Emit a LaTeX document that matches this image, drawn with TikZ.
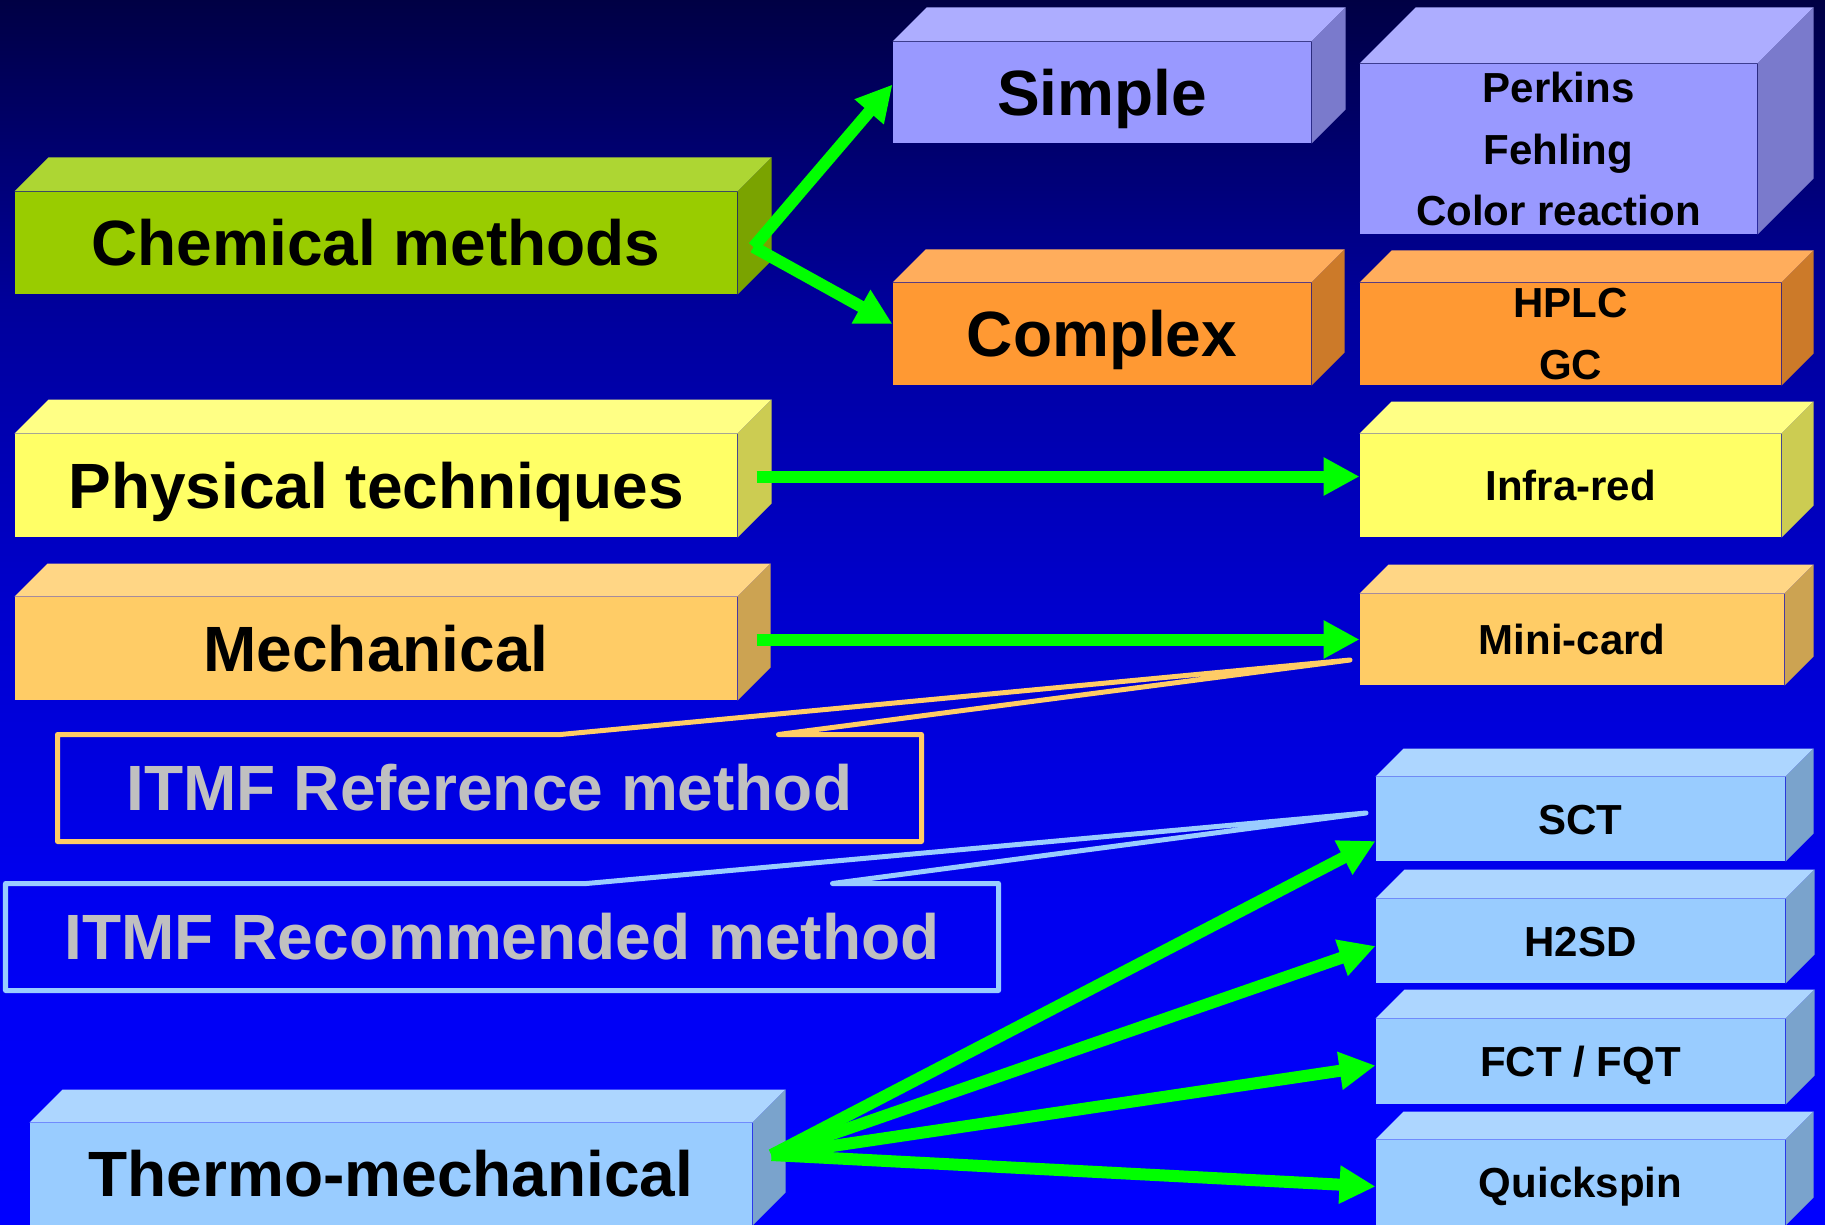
\documentclass[tikz,border=0pt]{standalone}
\usepackage{fontspec}
\setmainfont{Liberation Sans}
\usetikzlibrary{arrows.meta,calc}

\definecolor{chemgreen}{HTML}{99CC00}
\definecolor{lilac}{HTML}{9999FF}
\definecolor{tangerine}{HTML}{FF9933}
\definecolor{lemon}{HTML}{FFFF66}
\definecolor{peach}{HTML}{FFCC66}
\definecolor{sky}{HTML}{99CCFF}
\definecolor{arrowgreen}{HTML}{00FF00}
\definecolor{itmfgray}{HTML}{C0C0C0}
\definecolor{bgtop}{HTML}{000044}
\definecolor{bgone}{HTML}{00009A}
\definecolor{bgtwo}{HTML}{0000CC}
\definecolor{bgthree}{HTML}{0000F0}
\definecolor{bgbottom}{HTML}{0000FF}

% 3D slab: name, x, y, width, height, depth, colour, style, text
\newcommand{\slab}[9]{%
  \node[front, fill=#7, minimum width=#4*0.4pt, minimum height=#5*0.4pt, #8] (#1) at (#2,#3) {#9};
  \fill[#7!80!white] (#1.north west) -- ++(#6,-#6) -- ($(#1.north east)+(#6,-#6)$) -- (#1.north east) -- cycle;
  \fill[#7!80!black] (#1.north east) -- ++(#6,-#6) -- ($(#1.south east)+(#6,-#6)$) -- (#1.south east) -- cycle;
}

\begin{document}
\begin{tikzpicture}[
    x=0.4pt, y=-0.4pt,
    front/.style={rectangle, inner sep=0pt, align=center},
    bigtext/.style={font=\fontsize{25.6}{30}\selectfont\bfseries, text height=18.3pt, text depth=0pt},
    smalltext/.style={font=\fontsize{16.8}{24.6}\selectfont\bfseries, text height=12pt, text depth=0pt},
    listtext/.style={font=\fontsize{16.8}{24.6}\selectfont\bfseries},
    itmf/.style={rectangle, inner sep=0pt, text=itmfgray, font=\fontsize{25.6}{30}\selectfont\bfseries,
                 text height=18.3pt, text depth=0pt},
    go/.style={arrowgreen, line width=4.8pt, -{Triangle[length=14.4pt,width=14.4pt]}},
    refline/.style={peach, line width=2pt, line join=round},
    recline/.style={sky, line width=2pt, line join=round}
]

\useasboundingbox (0,0) rectangle (1825,1225);

% --- Background ---
\begin{scope}[y=0.4pt]
    \shade[top color=bgtop, bottom color=bgone] (0,0) rectangle (1825,-300.5);
    \shade[top color=bgone, bottom color=bgtwo] (0,-300) rectangle (1825,-600.5);
    \shade[top color=bgtwo, bottom color=bgthree] (0,-600) rectangle (1825,-900.5);
    \shade[top color=bgthree, bottom color=bgbottom] (0,-900) rectangle (1825,-1225);
\end{scope}

% --- Methods (left) ---
\slab{chem}{376}{243}{722}{102}{34}{chemgreen}{bigtext}{Chemical methods}
\slab{phys}{376}{485.5}{722}{103}{34}{lemon}{bigtext}{Physical techniques}
\slab{mech}{376}{648.5}{722}{103}{33}{peach}{bigtext}{Mechanical}
\slab{thermo}{391}{1174}{722}{102}{33}{sky}{bigtext}{Thermo-mechanical}

% --- Chemical split ---
\slab{simple}{1102}{92.5}{418}{101}{34}{lilac}{bigtext}{Simple}
\slab{complex}{1102}{334}{418}{102}{33}{tangerine}{bigtext}{Complex}

% --- Instruments (right) ---
\slab{perkins}{1558.5}{149}{397}{170}{56}{lilac}{listtext}{Perkins\\Fehling\\Color reaction}
\slab{hplc}{1570.5}{334}{421}{102}{32}{tangerine}{listtext}{HPLC\\GC}
\slab{infrared}{1570.5}{485.5}{421}{103}{32}{lemon}{smalltext}{Infra-red}
\slab{minicard}{1572}{639.5}{424}{91}{29}{peach}{smalltext}{Mini-card}
\slab{sct}{1580.5}{819}{409}{84}{28}{sky}{smalltext}{SCT}
\slab{h2sd}{1580.5}{941}{409}{84}{29}{sky}{smalltext}{H2SD}
\slab{fct}{1580.5}{1061.5}{409}{85}{29}{sky}{smalltext}{FCT / FQT}
\slab{quick}{1580.5}{1182.5}{409}{85}{28}{sky}{smalltext}{Quickspin}

% --- Callouts ---
\coordinate (reftip) at (1350,660);
\node[itmf, minimum width=863*0.4pt, minimum height=106*0.4pt] (itmfref) at (489.5,788) {ITMF Reference method};
\draw[refline] ($(itmfref.north west)+(503,0)$) -- (reftip) -- ($(itmfref.north west)+(721,0)$)
    -- (itmfref.north east) -- (itmfref.south east) -- (itmfref.south west) -- (itmfref.north west) -- cycle;

\coordinate (rectip) at (1366,813);
\node[itmf, minimum width=992*0.4pt, minimum height=106*0.4pt] (itmfrec) at (502,937) {ITMF Recommended method};
\draw[recline] ($(itmfrec.north west)+(581,0)$) -- (rectip) -- ($(itmfrec.north west)+(827,0)$)
    -- (itmfrec.north east) -- (itmfrec.south east) -- (itmfrec.south west) -- (itmfrec.north west) -- cycle;

% --- Arrows ---
\coordinate (chemstart) at ($(chem.east)+(16,4)$);
\draw[go] (chemstart) -- ($(simple.west)+(0,-8)$);
\draw[go] (chemstart) -- ($(complex.west)+(0,-10)$);

\draw[go] ($(phys.east)+(19,-9)$) -- ($(infrared.west)+(0,-9)$);
\draw[go] ($(mech.east)+(19,-9)$) -- (minicard.west);

\coordinate (thermostart) at ($(thermo.east)+(19,-19)$);
\foreach \dest/\dy in {sct/22, h2sd/5, fct/4, quick/4}
    \draw[go] (thermostart) -- ($(\dest.west)+(0,\dy)$);

\end{tikzpicture}
\end{document}
